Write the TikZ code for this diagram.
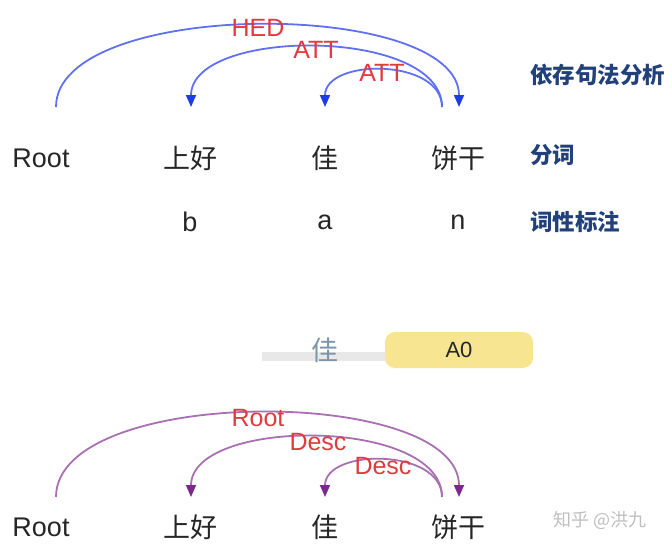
\documentclass[tikz,border=0pt]{standalone}
\usepackage{fontspec}
\setmainfont{Liberation Sans}
\newfontfamily\cjk{Noto Sans CJK SC}
\usetikzlibrary{arrows.meta}

\definecolor{depblue}{HTML}{6070F2}
\definecolor{tipblue}{HTML}{1E3CE6}
\definecolor{srlpurple}{HTML}{A870B0}
\definecolor{tippurple}{HTML}{7A2A8C}
\definecolor{relred}{HTML}{E23A3E}
\definecolor{navy}{HTML}{22407A}
\definecolor{fadeblue}{HTML}{7B96AA}
\definecolor{tagyellow}{HTML}{F8E591}

\tikzset{
  word/.style={font=\fontsize{27}{27}\selectfont, text=black!85, inner sep=0pt},
  hanzi/.style={font=\fontsize{27}{27}\selectfont\cjk, text=black!85, inner sep=0pt},
  rel/.style={font=\fontsize{25}{25}\selectfont, text=relred, inner sep=0pt},
  layer/.style={font=\fontsize{22.5}{22.5}\selectfont\cjk\bfseries, text=navy, anchor=west, inner sep=0pt},
  deparc/.style={depblue, line width=1.8pt, -{Triangle[width=10pt,length=12pt,fill=tipblue,color=tipblue]}},
  srlarc/.style={srlpurple, line width=1.8pt, -{Triangle[width=10pt,length=12pt,fill=tippurple,color=tippurple]}}
}

\begin{document}
\begin{tikzpicture}[x=1pt,y=-1pt]
  \useasboundingbox (0,0) rectangle (672,549);

  % Words of the sentence, top
  \node[word] (root) at (41,158) {Root};
  \node[hanzi] (shh) at (190,158) {上好};
  \node[hanzi] (jia) at (325,158) {佳};
  \node[hanzi] (bg) at (458,158) {饼干};

  % POS tags
  \node[word] (posb) at (190,222) {b};
  \node[word] (posa) at (325,222) {a};
  \node[word] (posn) at (458,222) {n};

  % Layer names
  \node[layer] (ldep) at (530,75) {依存句法分析};
  \node[layer] (lseg) at (530,155) {分词};
  \node[layer] (lpos) at (530,222) {词性标注};

  % Arc end points
  \coordinate (rootT) at (56,107);
  \coordinate (shhT) at (191,107);
  \coordinate (jiaT) at (325,107);
  \coordinate (bgT) at (459,107);
  \coordinate (bgS) at (442,107);

  % Dependency arcs
  \draw[deparc] (rootT) .. controls (56,-2) and (459,-2) .. (bgT);
  \draw[deparc] (bgS) .. controls (442,27) and (191,27) .. (shhT);
  \draw[deparc] (bgS) .. controls (442,58) and (325,58) .. (jiaT);
  \node[rel] (hed) at (258,28) {HED};
  \node[rel] (att1) at (316,50) {ATT};
  \node[rel] (att2) at (382,73) {ATT};

  % Semantic role bar
  \fill[black!9] (262,352) rectangle (388,361);
  \node[hanzi, text=fadeblue] (jiab) at (325,350) {佳};
  \node[fill=tagyellow, rounded corners=10pt, minimum width=148pt,
    minimum height=36pt, font=\fontsize{22}{22}\selectfont, text=black!85] (a0) at (459,350) {A0};

  % Words of the sentence, bottom
  \node[word] (root2) at (41,527) {Root};
  \node[hanzi] (shh2) at (190,527) {上好};
  \node[hanzi] (jia2) at (325,527) {佳};
  \node[hanzi] (bg2) at (458,527) {饼干};

  \coordinate (rootB) at (56,497);
  \coordinate (shhB) at (191,497);
  \coordinate (jiaB) at (325,497);
  \coordinate (bgB) at (459,497);
  \coordinate (bgC) at (442,497);

  % Semantic arcs
  \draw[srlarc] (rootB) .. controls (56,385) and (459,385) .. (bgB);
  \draw[srlarc] (bgC) .. controls (442,417) and (191,417) .. (shhB);
  \draw[srlarc] (bgC) .. controls (442,448) and (325,448) .. (jiaB);
  \node[rel] (rootl) at (258,418) {Root};
  \node[rel] (desc1) at (318,442) {Desc};
  \node[rel] (desc2) at (383,466) {Desc};

  % Watermark
  \node[font=\fontsize{18}{18}\selectfont\cjk, text=black!25, anchor=west] (wm) at (550,520) {知乎 @洪九};
\end{tikzpicture}
\end{document}
